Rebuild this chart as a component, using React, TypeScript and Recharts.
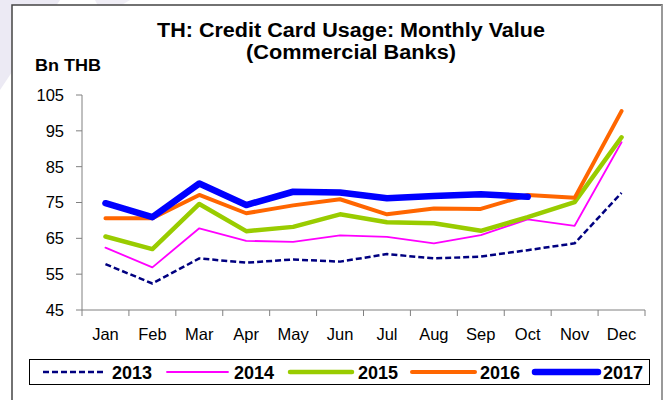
import { LineChart, Line, XAxis, YAxis, Legend } from "recharts";

// Monthly value, Bn THB
const MONTHS = ["Jan", "Feb", "Mar", "Apr", "May", "Jun", "Jul", "Aug", "Sep", "Oct", "Nov", "Dec"];
const Y2013 = [57.8, 52.4, 59.4, 58.2, 59.1, 58.5, 60.6, 59.4, 59.9, 61.7, 63.6, 77.7];
const Y2014 = [62.4, 56.9, 67.8, 64.3, 64.0, 65.8, 65.4, 63.6, 65.9, 70.3, 68.5, 91.8];
const Y2015 = [65.5, 62.0, 74.6, 67.0, 68.2, 71.7, 69.5, 69.2, 67.1, 70.9, 75.1, 93.2];
const Y2016 = [70.6, 70.6, 77.1, 72.0, 74.2, 75.9, 71.7, 73.3, 73.2, 77.1, 76.3, 100.5];
const Y2017 = [74.8, 70.9, 80.3, 74.3, 78.0, 77.8, 76.2, 76.8, 77.3, 76.6, null, null];
const Y_TICKS = [45, 55, 65, 75, 85, 95, 105];
const X_TICKS = [0, 1, 2, 3, 4, 5, 6, 7, 8, 9, 10, 11, 12];

const FONT = '"Liberation Sans", Arial, sans-serif';

const SERIES = [
  { key: "y2013", name: "2013", color: "#000080", width: 2.5, dash: "6 3" },
  { key: "y2014", name: "2014", color: "#FF00FF", width: 1.8, dash: undefined },
  { key: "y2015", name: "2015", color: "#99CC00", width: 4.5, dash: undefined },
  { key: "y2016", name: "2016", color: "#FF6600", width: 4, dash: undefined },
  { key: "y2017", name: "2017", color: "#0000FF", width: 6.5, dash: undefined },
];

const data = MONTHS.map((m, i) => ({
  x: i + 0.5,
  month: m,
  y2013: Y2013[i],
  y2014: Y2014[i],
  y2015: Y2015[i],
  y2016: Y2016[i],
  y2017: Y2017[i],
}));

const BAND = (645 - 82) / 12;

function MonthTick(props: any) {
  const { x, y, payload } = props;
  const i = payload.value;
  if (i >= 12) return <g />;
  return (
    <text x={x + BAND / 2} y={y + 22} textAnchor="middle" fontSize={16.5} fontFamily={FONT} fill="#000">
      {MONTHS[i]}
    </text>
  );
}

// legend positions: [line start, line end, text start]
const LEGEND_POS = [
  [43, 105, 112],
  [167, 228, 234],
  [290, 352, 358],
  [412, 475, 480],
  [535, 598, 603],
];

function LegendBox() {
  return (
    <svg width={667} height={400} style={{ position: "absolute", left: 0, top: 0, pointerEvents: "none" }}>
      <rect x={29.5} y={359.5} width={620} height={25} fill="#fff" stroke="#000" strokeWidth={1} />
      {SERIES.map((s, i) => {
        const [x1, x2, tx] = LEGEND_POS[i];
        return (
          <g key={s.key}>
            <line
              x1={x1}
              x2={x2}
              y1={372}
              y2={372}
              stroke={s.color}
              strokeWidth={s.width}
              strokeDasharray={s.dash}
              strokeLinecap={s.dash ? "butt" : "round"}
            />
            <text x={tx} y={379} fontSize={18} fontWeight="bold" fontFamily={FONT} fill="#000">
              {s.name}
            </text>
          </g>
        );
      })}
    </svg>
  );
}

export default function App() {
  return (
    <div style={{ position: "fixed", left: 0, top: 0, width: 667, height: 400, background: "#fff", overflow: "hidden" }}>
      <svg width={667} height={400} style={{ position: "absolute", left: 0, top: 0 }}>
        <polygon points="0,0 60,0 0,90" fill="#eceaf4" />
        <polygon points="95,0 130,0 120,6 98,6" fill="#f0eef6" />
        <rect x={12} y={5} width={650} height={420} fill="#fff" stroke="#444" strokeWidth={1.5} />
        <rect x={661} y={5} width={2} height={400} fill="#999" />
        <text
          x={157}
          y={37}
          fontSize={20}
          fontWeight="bold"
          fontFamily={FONT}
          textLength={388}
          lengthAdjust="spacingAndGlyphs"
        >
          TH: Credit Card Usage: Monthly Value
        </text>
        <text
          x={246}
          y={59}
          fontSize={20}
          fontWeight="bold"
          fontFamily={FONT}
          textLength={210}
          lengthAdjust="spacingAndGlyphs"
        >
          (Commercial Banks)
        </text>
        <text
          x={35}
          y={71}
          fontSize={16}
          fontWeight="bold"
          fontFamily={FONT}
          textLength={66}
          lengthAdjust="spacingAndGlyphs"
        >
          Bn THB
        </text>
      </svg>
      <div style={{ position: "absolute", left: 0, top: 0 }}>
        <LineChart width={667} height={400} data={data} margin={{ top: 95, right: 22, bottom: 60, left: 22 }}>
          <XAxis
            dataKey="x"
            type="number"
            domain={[0, 12]}
            ticks={X_TICKS}
            interval={0}
            tick={MonthTick}
            tickSize={6}
            axisLine={{ stroke: "#808080" }}
            tickLine={{ stroke: "#808080" }}
            height={30}
          />
          <YAxis
            domain={[45, 105]}
            ticks={Y_TICKS}
            interval={0}
            width={60}
            tickSize={6}
            tickMargin={12}
            axisLine={{ stroke: "#808080" }}
            tickLine={{ stroke: "#808080" }}
            tick={{ fontSize: 16.5, fontFamily: FONT, fill: "#000" }}
          />
          {SERIES.map((s) => (
            <Line
              key={s.key}
              dataKey={s.key}
              name={s.name}
              type="linear"
              stroke={s.color}
              strokeWidth={s.width}
              strokeDasharray={s.dash}
              strokeLinecap={s.dash ? "butt" : "round"}
              strokeLinejoin="round"
              dot={false}
              activeDot={false}
              isAnimationActive={false}
            />
          ))}
          <Legend content={() => null} />
        </LineChart>
      </div>
      <LegendBox />
    </div>
  );
}
